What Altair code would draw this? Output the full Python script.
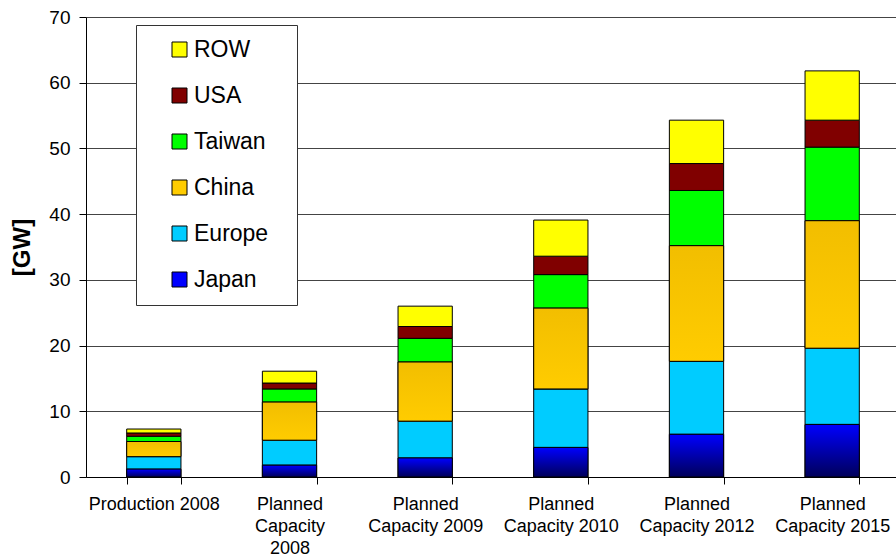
import json
import altair as alt
import pandas as pd

# Solar cell production / planned capacity by region, in GW
categories = [
    "Production 2008",
    "Planned Capacity 2008",
    "Planned Capacity 2009",
    "Planned Capacity 2010",
    "Planned Capacity 2012",
    "Planned Capacity 2015",
]
category_lines = [
    ["Production 2008"],
    ["Planned", "Capacity", "2008"],
    ["Planned", "Capacity 2009"],
    ["Planned", "Capacity 2010"],
    ["Planned", "Capacity 2012"],
    ["Planned", "Capacity 2015"],
]

# stacking order, bottom to top
regions = ["Japan", "Europe", "China", "Taiwan", "USA", "ROW"]
japan = [1.2, 1.8, 2.9, 4.5, 6.5, 8.0]
europe = [1.9, 3.8, 5.6, 8.9, 11.1, 11.6]
china = [2.3, 5.8, 9.0, 12.3, 17.6, 19.4]
taiwan = [0.8, 2.0, 3.6, 5.1, 8.4, 11.2]
usa = [0.5, 0.9, 1.8, 2.8, 4.1, 4.1]
row = [0.6, 1.8, 3.1, 5.5, 6.6, 7.5]

region_colors = {
    "ROW": "#FFFF00",
    "USA": "#800000",
    "Taiwan": "#00FF00",
    "China": "#FFCC00",
    "Europe": "#00CCFF",
    "Japan": "#0000FF",
}

series = dict(zip(regions, [japan, europe, china, taiwan, usa, row]))
records = []
for r_idx, region in enumerate(regions):
    for c, v in zip(categories, series[region]):
        records.append({"category": c, "region": region, "gw": v, "order": r_idx})
df = pd.DataFrame(records)

legend_order = list(reversed(regions))
FONT = "Liberation Sans"

label_map = json.dumps(dict(zip(categories, category_lines)))

x_enc = alt.X(
    "category:N",
    sort=categories,
    scale=alt.Scale(range=[0, 814], paddingInner=0.6, paddingOuter=0.3),
    axis=alt.Axis(
        title=None,
        labelAngle=0,
        tickBand="extent",
        tickSize=7,
        tickColor="black",
        domainColor="black",
        labelFont=FONT,
        labelFontSize=18,
        labelColor="black",
        labelLineHeight=22,
        labelPadding=11,
        labelBaseline="top",
        labelExpr=label_map + "[datum.value]",
    ),
)
y_enc = alt.Y(
    "y0:Q",
    scale=alt.Scale(domain=[0, 70], nice=False),
    axis=alt.Axis(
        values=list(range(0, 71, 10)),
        grid=True,
        gridColor="#444444",
        gridWidth=1,
        tickSize=7,
        tickColor="black",
        domainColor="black",
        labelFont=FONT,
        labelFontSize=19,
        labelColor="black",
        labelPadding=9,
        title="[GW]",
        titleFont=FONT,
        titleFontSize=24,
        titleFontWeight="bold",
        titleColor="black",
        titleAngle=270,
        titleAlign="center",
        titleBaseline="middle",
        titleX=-64,
        titleY=230,
    ),
)

base = alt.Chart(df).transform_stack(
    stack="gw",
    as_=["y0", "y1"],
    groupby=["category"],
    sort=[alt.SortField("order", order="ascending")],
)

bars = base.mark_bar(stroke="black", strokeWidth=1).encode(
    x=x_enc,
    y=y_enc,
    y2="y1:Q",
    color=alt.Color(
        "region:N",
        scale=alt.Scale(
            domain=legend_order,
            range=[region_colors[r] for r in legend_order],
        ),
        legend=alt.Legend(
            title="\u00a0",
            titleOrient="right",
            titlePadding=16,
            titleFontSize=4,
            orient="none",
            legendX=50,
            legendY=8,
            fillColor="white",
            strokeColor="#333333",
            padding=13,
            symbolType="square",
            symbolSize=225,
            symbolStrokeColor="black",
            symbolStrokeWidth=1,
            symbolOpacity=1,
            symbolOffset=19,
            labelOffset=3,
            labelFont=FONT,
            labelFontSize=23,
            labelColor="black",
            rowPadding=22,
        ),
    ),
)

japan_grad = alt.Gradient(
    gradient="linear",
    stops=[
        alt.GradientStop(color="#0000FF", offset=0),
        alt.GradientStop(color="#00005A", offset=1),
    ],
    x1=0, x2=0, y1=0, y2=1,
)
china_grad = alt.Gradient(
    gradient="linear",
    stops=[
        alt.GradientStop(color="#F2BE00", offset=0),
        alt.GradientStop(color="#FFCC00", offset=1),
    ],
    x1=0, x2=0, y1=0, y2=1,
)

japan_bars = base.transform_filter(alt.datum.region == "Japan").mark_bar(
    color=japan_grad, stroke="black", strokeWidth=1
).encode(x=x_enc, y=y_enc, y2="y1:Q")

china_bars = base.transform_filter(alt.datum.region == "China").mark_bar(
    color=china_grad, stroke="black", strokeWidth=1
).encode(x=x_enc, y=y_enc, y2="y1:Q")

chart = (
    alt.layer(bars, japan_bars, china_bars)
    .properties(
        width=810,
        height=460,
        autosize=alt.AutoSizeParams(type="none"),
        padding={"left": 86, "top": 17, "right": 0, "bottom": 79},
        background="white",
    )
    .configure_view(stroke=None)
)

chart.save("out.html", embed_options={"renderer": "svg", "actions": False})
